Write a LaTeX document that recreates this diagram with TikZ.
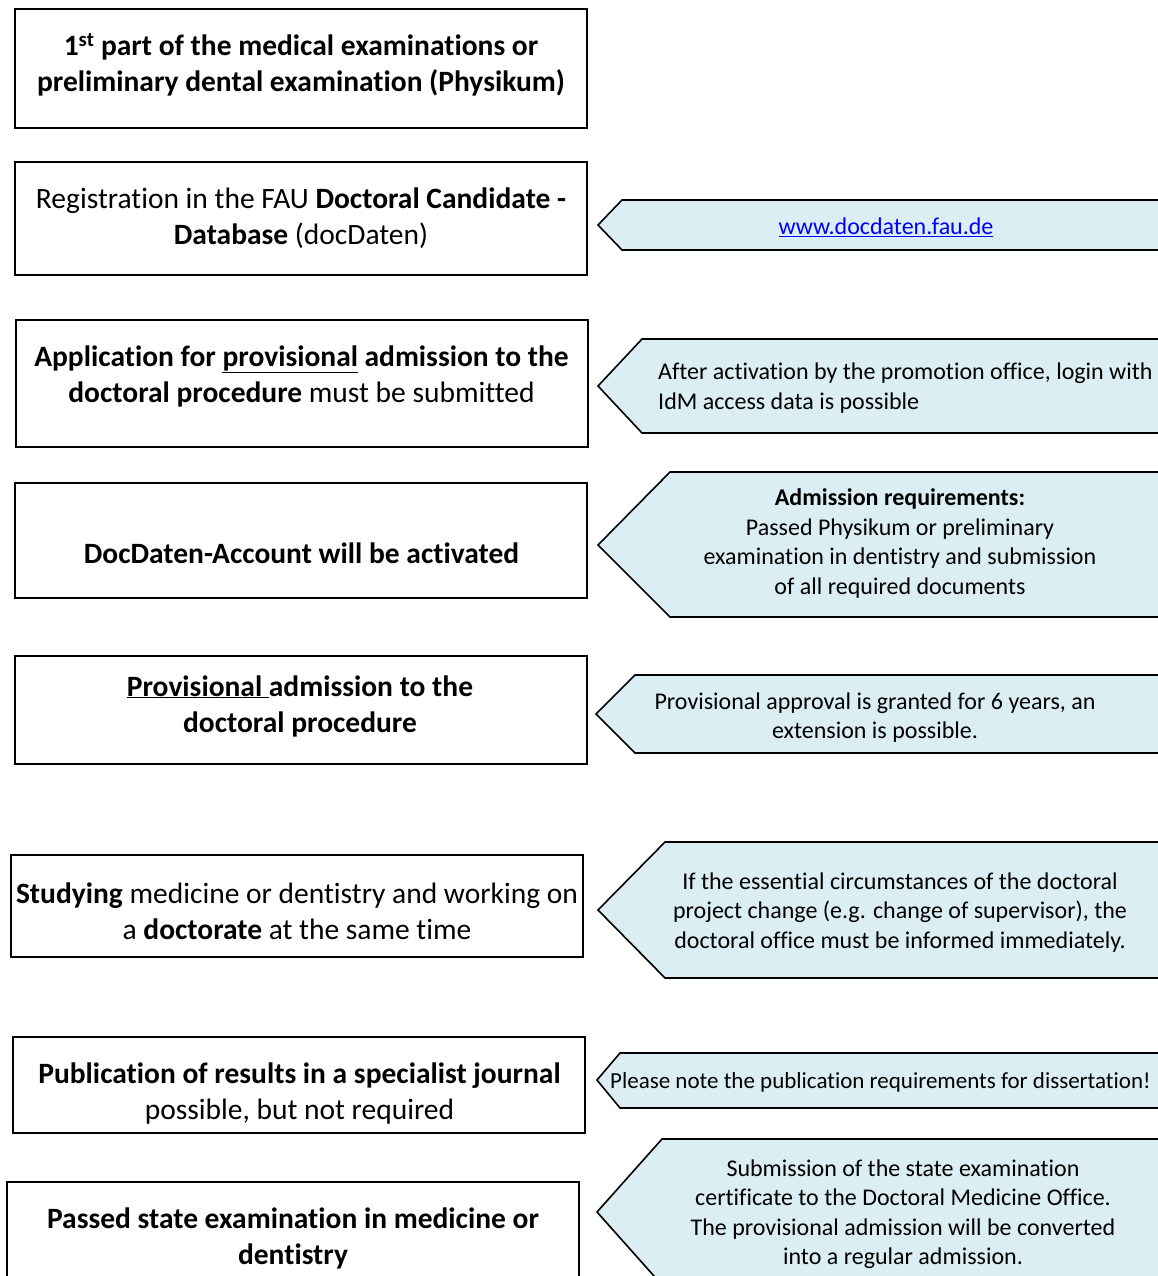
\documentclass[tikz,border=0pt]{standalone}
\usepackage{fontspec}
\setmainfont{Carlito}[Ligatures=NoCommon]
\usepackage{xcolor}
\usetikzlibrary{positioning, calc}
\definecolor{notefill}{HTML}{DAEEF3}
\definecolor{linkblue}{HTML}{0000FF}

\begin{document}
\begin{tikzpicture}[
  x=1pt, y=-1pt,
  every node/.style={font=\fontsize{29.5}{36}\selectfont},
  stage/.style={draw, line width=2pt, minimum width=572pt, inner sep=0pt},
  stagetext/.style={align=center, inner sep=0pt},
  note/.style={draw, line width=1.6pt, fill=notefill, line join=miter},
  notetext/.style={font=\fontsize{24}{29.5}\selectfont, align=center, inner sep=0pt}
]
\useasboundingbox (0,0) rectangle (1158,1276);
\clip (0,0) rectangle (1158,1276);

% Left column: the steps of the procedure
\node[stage, minimum height=119pt] (physikum) at (301,68.5) {};
\node[stagetext] (physikumtxt) at (301,65)
  {\textbf{1\textsuperscript{st} part of the medical examinations or}\\
   \textbf{preliminary dental examination (Physikum)}};

\node[stage, minimum height=113pt] (register) at (301,218.5) {};
\node[stagetext] (registertxt) at (301,218.5)
  {Registration in the FAU \textbf{Doctoral Candidate -}\\
   \textbf{Database} (docDaten)};

\node[stage, minimum height=127pt] (apply) at (301.5,383.5) {};
\node[stagetext] (applytxt) at (301.5,376)
  {\textbf{Application for \underline{provisional} admission to the}\\
   \textbf{doctoral procedure} must be submitted};

\node[stage, minimum height=115pt] (account) at (301,540.5) {};
\node[stagetext] (accounttxt) at (301.5,553)
  {\textbf{DocDaten-Account will be activated}};

\node[stage, minimum height=108pt] (admission) at (301,710) {};
\node[stagetext] (admissiontxt) at (300,706)
  {\textbf{\underline{Provisional\ }admission to the}\\
   \textbf{doctoral procedure}};

\node[stage, minimum height=102pt] (studying) at (297,906) {};
\node[stagetext] (studyingtxt) at (297,911)
  {\textbf{Studying} medicine or dentistry and working on\\
   a \textbf{doctorate} at the same time};

\node[stage, minimum height=96pt] (publication) at (299,1085) {};
\node[stagetext] (publicationtxt) at (299.5,1094)
  {\textbf{Publication of results in a specialist journal}\\
   possible, but not required};

\node[stage, minimum height=108pt] (stateexam) at (293,1236) {};
\node[stagetext] (stateexamtxt) at (293,1238.5)
  {\textbf{Passed state examination in medicine or}\\
   \textbf{dentistry}};

% Right column: notes pointing back to the steps
\draw[note] (598,225) -- (622,200) -- (1170,200) -- (1170,250) -- (622,250) -- cycle;
\node[notetext] (linktxt) at (886,227)
  {\textcolor{linkblue}{\underline{www.docdaten.fau.de}}};

\draw[note] (598,386) -- (642,339) -- (1170,339) -- (1170,433) -- (642,433) -- cycle;
\node[notetext, align=left, anchor=west] (logintxt) at (658,388)
  {After activation by the promotion office, login with\\
   IdM access data is possible};

\draw[note] (598,545) -- (670,472) -- (1170,472) -- (1170,617) -- (670,617) -- cycle;
\node[notetext] (requiretxt) at (900,543.5)
  {\textbf{Admission requirements:}\\
   Passed Physikum or preliminary\\
   examination in dentistry and submission\\
   of all required documents};

\draw[note] (596,714) -- (635,675) -- (1170,675) -- (1170,753) -- (635,753) -- cycle;
\node[notetext] (approvaltxt) at (875,717.5)
  {Provisional approval is granted for 6 years, an\\
   extension is possible.};

\draw[note] (598,910) -- (665,842) -- (1170,842) -- (1170,978) -- (665,978) -- cycle;
\node[notetext] (changetxt) at (900,912.5)
  {If the essential circumstances of the doctoral\\
   project change (e.g. change of supervisor), the\\
   doctoral office must be informed immediately.};

\draw[note] (597,1080) -- (620,1053) -- (1170,1053) -- (1170,1108) -- (620,1108) -- cycle;
\node[notetext, anchor=west, font=\fontsize{23}{29.5}\selectfont] (publishtxt) at (610,1082)
  {Please note the publication requirements for dissertation!};

\draw[note] (597,1212) -- (662,1139) -- (1170,1139) -- (1170,1285) -- (662,1285) -- cycle;
\node[notetext] (certificatetxt) at (903,1214)
  {Submission of the state examination\\
   certificate to the Doctoral Medicine Office.\\
   The provisional admission will be converted\\
   into a regular admission.};

\end{tikzpicture}
\end{document}
